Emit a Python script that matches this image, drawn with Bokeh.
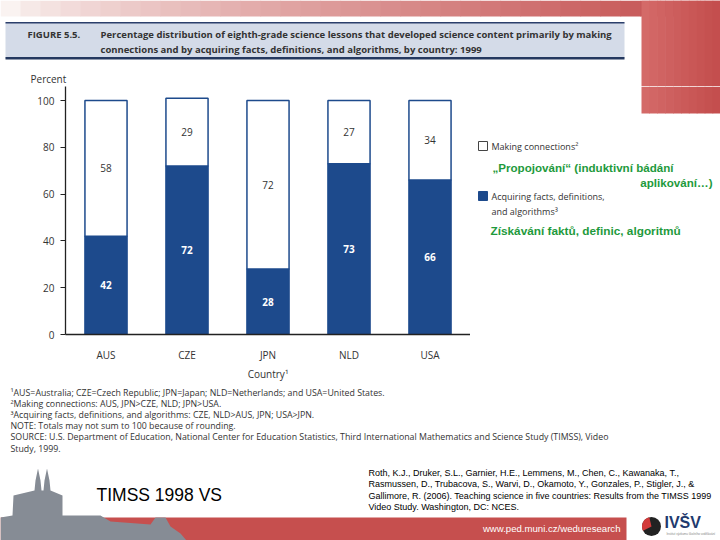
from bokeh.plotting import figure
from bokeh.layouts import column, row
from bokeh.models import Range1d, FactorRange, ColumnDataSource, Label, FixedTicker
from bokeh.core.properties import value
from bokeh.embed import file_html
from bokeh.resources import INLINE

# ---------------- data ----------------
countries = ["AUS", "CZE", "JPN", "NLD", "USA"]
acquiring = [42, 72, 28, 73, 66]       # Acquiring facts, definitions, and algorithms
connections = [58, 29, 72, 27, 34]     # Making connections
y_ticks = [0, 20, 40, 60, 80, 100]

title_lines = [
    "Percentage distribution of eighth-grade science lessons that developed  science content primarily by making",
    "connections and by acquiring facts, definitions, and algorithms, by country: 1999",
]
legend_conn = ["Making connections\u00b2"]
legend_acq = ["Acquiring facts, definitions,", "and algorithms\u00b3"]
footnotes = [
    "\u00b9AUS=Australia; CZE=Czech Republic; JPN=Japan; NLD=Netherlands; and USA=United States.",
    "\u00b2Making connections: AUS, JPN>CZE, NLD; JPN>USA.",
    "\u00b3Acquiring facts, definitions, and algorithms: CZE, NLD>AUS, JPN; USA>JPN.",
    " NOTE: Totals may not sum to 100 because of rounding.",
    " SOURCE: U.S. Department of Education, National Center for Education Statistics, Third International Mathematics and Science Study (TIMSS), Video",
    " Study, 1999.",
]
citation = [
    "Roth, K.J., Druker, S.L., Garnier, H.E., Lemmens, M., Chen, C., Kawanaka, T.,",
    "Rasmussen, D., Trubacova, S., Warvi, D., Okamoto, Y., Gonzales, P., Stigler, J., &",
    "Gallimore, R. (2006). Teaching science in five countries: Results from the TIMSS 1999",
    "Video Study. Washington, DC: NCES.",
]

BLUE = "#1d4a8c"
GREEN = "#1e9a3c"
TXT = "#333333"
FONT = "Open Sans"
ARIAL = "Liberation Sans"
RED = "#c64f4e"

W = 720
Y_TOP, Y_MID = 86, 384          # page rows where the layout is split
FL, FR, FB = 65, 470, 334       # chart frame edges (page pixels); frame top = Y_TOP
PX_PER_PCT = 2.34               # 0..100 spans 234 px in the reference


def deco_fig(x0, x1, y0, y1):
    f = figure(width=x1 - x0, height=y1 - y0, x_range=Range1d(x0, x1), y_range=Range1d(y1, y0),
               x_axis_type=None, y_axis_type=None, output_backend="svg", toolbar_location=None,
               min_border=0)
    f.outline_line_color = None
    f.background_fill_color = "white"
    f.border_fill_color = "white"
    f.grid.visible = False
    return f


def label(f, x, y, text, size, color=TXT, font=FONT, style="normal", align="left"):
    f.add_layout(Label(x=x, y=y, text=text, text_font=font, text_font_size=size,
                       text_color=color, text_font_style=style, text_align=align,
                       text_baseline="middle"))


def gradient(f, x0, x1, y0, y1, ca, cb, n, gamma=1.0):
    for i in range(n):
        t = (i / (n - 1)) ** gamma
        col = "#%02x%02x%02x" % tuple(int(ca[k] + (cb[k] - ca[k]) * t) for k in range(3))
        f.quad(left=x0 + (x1 - x0) * i / n, right=x0 + (x1 - x0) * (i + 1) / n + 0.6,
               top=y0, bottom=y1, fill_color=col, line_color=None)


# ---------------- top strip ----------------
top = deco_fig(0, W, 0, Y_TOP)
gradient(top, 0, W, 0, 16, (250, 243, 241), (196, 78, 78), 36, 0.8)
gradient(top, 641, W, 0, Y_TOP, (212, 106, 104), (196, 78, 78), 10)
top.quad(left=5, right=624, top=22, bottom=58, fill_color="#d4dbe8", line_color=None)
top.quad(left=5, right=624, top=21.5, bottom=23, fill_color="#2b3f6b", line_color=None)
top.quad(left=5, right=624, top=56.5, bottom=59, fill_color="#24385f", line_color=None)
label(top, 27, 34, "FIGURE 5.5.", "9.5px", style="bold")
label(top, 100, 34, title_lines[0], "9.5px", style="bold")
label(top, 100, 48.5, title_lines[1], "9.5px", style="bold")
label(top, 30, 78, "Percent", "10px")

# ---------------- chart ----------------
acq_mid = [a / 2 for a in acquiring]
con_mid = [a + c / 2 for a, c in zip(acquiring, connections)]
src = ColumnDataSource(dict(country=countries, acq=acquiring, conn=connections,
                            acq_mid=acq_mid, con_mid=con_mid,
                            acq_lbl=[str(v) for v in acquiring],
                            con_lbl=[str(v) for v in connections]))

p = figure(width=FR, height=Y_MID - Y_TOP, x_range=FactorRange(factors=countries, range_padding=0),
           y_range=Range1d(0, (FB - Y_TOP) / PX_PER_PCT), output_backend="svg",
           toolbar_location=None, min_border_left=FL, min_border_right=0, min_border_top=0,
           min_border_bottom=Y_MID - FB)
p.background_fill_color = "white"
p.border_fill_color = "white"
p.outline_line_color = None
p.xgrid.visible = False
p.ygrid.visible = False

rs = p.vbar_stack(["acq", "conn"], x="country", width=0.52, source=src,
                  fill_color=[BLUE, "white"], line_color=BLUE, line_width=1.5)
p.text(x="country", y="acq_mid", text="acq_lbl", source=src, text_color="white",
       text_font=value(FONT), text_font_size="10px", text_font_style="bold",
       text_align="center", text_baseline="middle")
p.text(x="country", y="con_mid", text="con_lbl", source=src, text_color=TXT,
       text_font=value(FONT), text_font_size="10px",
       text_align="center", text_baseline="middle")

ya = p.yaxis[0]
ya.ticker = FixedTicker(ticks=y_ticks)
ya.minor_tick_line_color = None
ya.major_tick_in = 0
ya.major_tick_out = 5
ya.axis_line_color = "#222222"
ya.axis_line_width = 1.3
ya.major_tick_line_color = "#222222"
ya.major_label_text_font = FONT
ya.major_label_text_font_size = "10px"
ya.major_label_text_color = TXT
ya.major_label_standoff = 6

xa = p.xaxis[0]
xa.major_tick_line_color = None
xa.axis_line_color = "#222222"
xa.axis_line_width = 1.3
xa.major_label_text_font = FONT
xa.major_label_text_font_size = "10px"
xa.major_label_text_color = TXT
xa.major_label_standoff = 7
xa.axis_label = "Country\u00b9"
xa.axis_label_text_font = FONT
xa.axis_label_text_font_size = "10px"
xa.axis_label_text_font_style = "normal"
xa.axis_label_text_color = TXT
xa.axis_label_standoff = 2

# ---------------- right panel (legend); its frame is aligned with the chart frame --------
right = figure(width=W - FR, height=Y_MID - Y_TOP, x_range=Range1d(FR, W), y_range=Range1d(FB, Y_TOP),
               x_axis_type=None, y_axis_type=None, output_backend="svg", toolbar_location=None,
               min_border_left=0, min_border_right=0, min_border_top=0, min_border_bottom=Y_MID - FB)
right.outline_line_color = None
right.background_fill_color = "white"
right.border_fill_color = "white"
right.grid.visible = False
gradient(right, 641, W, Y_TOP, 113, (212, 106, 104), (196, 78, 78), 10)
right.quad(left=478, right=487, top=141, bottom=150, fill_color="white",
           line_color="#444444", line_width=1)
right.quad(left=478, right=487, top=191, bottom=200, fill_color=BLUE, line_color=BLUE)
label(right, 491, 145.5, legend_conn[0], "9px")
label(right, 491, 196, legend_acq[0], "9px")
label(right, 491, 211, legend_acq[1], "9px")
label(right, 492, 167, "\u201ePropojov\u00e1n\u00ed\u201c (induktivn\u00ed b\u00e1d\u00e1n\u00ed", "11.6px",
      color=GREEN, font=ARIAL, style="bold")
label(right, 712, 182, "aplikov\u00e1n\u00ed\u2026)", "11.6px", color=GREEN, font=ARIAL,
      style="bold", align="right")
label(right, 490, 230, "Z\u00edsk\u00e1v\u00e1n\u00ed fakt\u016f, definic, algoritm\u016f", "11.8px",
      color=GREEN, font=ARIAL, style="bold")

# ---------------- bottom ----------------
bot = deco_fig(0, W, Y_MID, 540)
for i, line in enumerate(footnotes):
    label(bot, 10, 392 + 11.2 * i, line, "8.8px")
bot.quad(left=0, right=626, top=517, bottom=540, fill_color=RED, line_color=None)
sil_x = [0, 0, 12, 13, 34, 35, 37.5, 40, 41, 43, 44, 46.5, 49, 50, 62, 62, 100, 110, 150,
         155, 165, 170, 180, 186]
sil_y = [540, 517, 515, 495, 490, 480, 468, 480, 490, 490, 480, 468, 480, 490, 495, 515, 515,
         521, 524, 517, 517, 526, 533, 540]
bot.patch(sil_x, sil_y, fill_color="#868c95", line_color=None)
label(bot, 620, 528, "www.ped.muni.cz/weduresearch", "9.6px", color="white",
      font=ARIAL, align="right")
label(bot, 96, 494, "TIMSS 1998 VS", "17.5px", color="black", font=ARIAL)
for i, line in enumerate(citation):
    label(bot, 368, 472 + 11.5 * i, line, "9px", color="black", font=ARIAL)
bot.scatter([651], [526], size=19, marker="circle", fill_color="#222222", line_color=None)
bot.wedge([651], [526], radius=9.5, start_angle=1.8, end_angle=3.6,
          fill_color="#d23a3a", line_color=None)
label(bot, 664, 522, "IV\u0160V", "16px", color="#1f3a6e", font=ARIAL, style="bold")
label(bot, 666, 533, "Institut v\u00fdzkumu \u0161koln\u00edho vzd\u011bl\u00e1v\u00e1n\u00ed", "3px",
      color="#888888", font=ARIAL)

layout = column(top, row(p, right), bot)
open("out.html", "w").write(file_html(layout, INLINE))
